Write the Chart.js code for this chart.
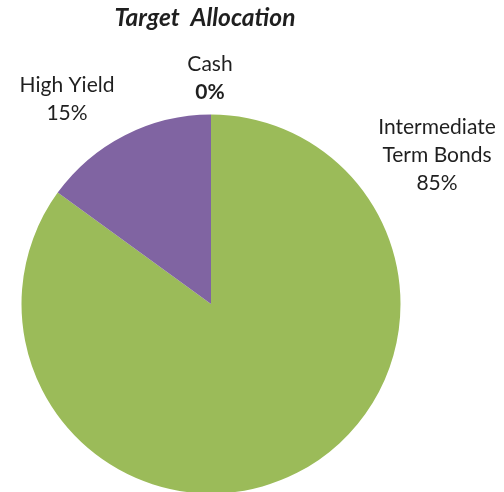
<!DOCTYPE html>
<html>
<head>
<meta charset="utf-8">
<script src="https://cdn.jsdelivr.net/npm/chart.js@4"></script>
<style>
html,body{margin:0;padding:0;background:#fff;overflow:hidden;}
#wrap{width:504px;height:500px;position:relative;}
</style>
</head>
<body>
<div id="wrap"><canvas id="c" width="504" height="500"></canvas></div>
<script>
const categories = ["Intermediate Term Bonds", "High Yield", "Cash"];
const labelLines = [["Intermediate", "Term Bonds"], ["High Yield"], ["Cash"]];
const values = [85, 15, 0];
const colors = ["#9BBB59", "#8064A2", "#4BACC6"];
const titleText = "Target  Allocation";

const FONT = "Lato, 'Open Sans', sans-serif";

const labelPlugin = {
  id: 'outLabels',
  afterDraw(chart) {
    const ctx = chart.ctx;
    ctx.save();
    ctx.textAlign = 'center';
    ctx.textBaseline = 'middle';
    ctx.fillStyle = '#1f1f1f';
    // title
    ctx.font = "italic bold 24.5px " + FONT;
    ctx.fillText(titleText, 205, 18);
    const pos = [
      {x: 437, y: 127},
      {x: 67, y: 85},
      {x: 210, y: 64}
    ];
    const bold = [false, false, true];
    values.forEach((v, i) => {
      const lines = labelLines[i];
      let y = pos[i].y;
      ctx.font = "21px " + FONT;
      lines.forEach(l => { ctx.fillText(l, pos[i].x, y); y += 28; });
      ctx.font = (bold[i] ? "bold " : "") + "21px " + FONT;
      ctx.fillText(v + "%", pos[i].x, y);
    });
    ctx.restore();
  }
};

new Chart(document.getElementById('c'), {
  type: 'pie',
  data: {
    labels: categories,
    datasets: [{
      data: values,
      backgroundColor: colors,
      borderWidth: 0
    }]
  },
  options: {
    responsive: false,
    animation: false,
    layout: { padding: { left: 21.5, right: 103.5, top: 114.5, bottom: 6.5 } },
    plugins: {
      legend: { display: false },
      tooltip: { enabled: false },
      title: { display: false }
    }
  },
  plugins: [labelPlugin]
});
</script>
</body>
</html>
